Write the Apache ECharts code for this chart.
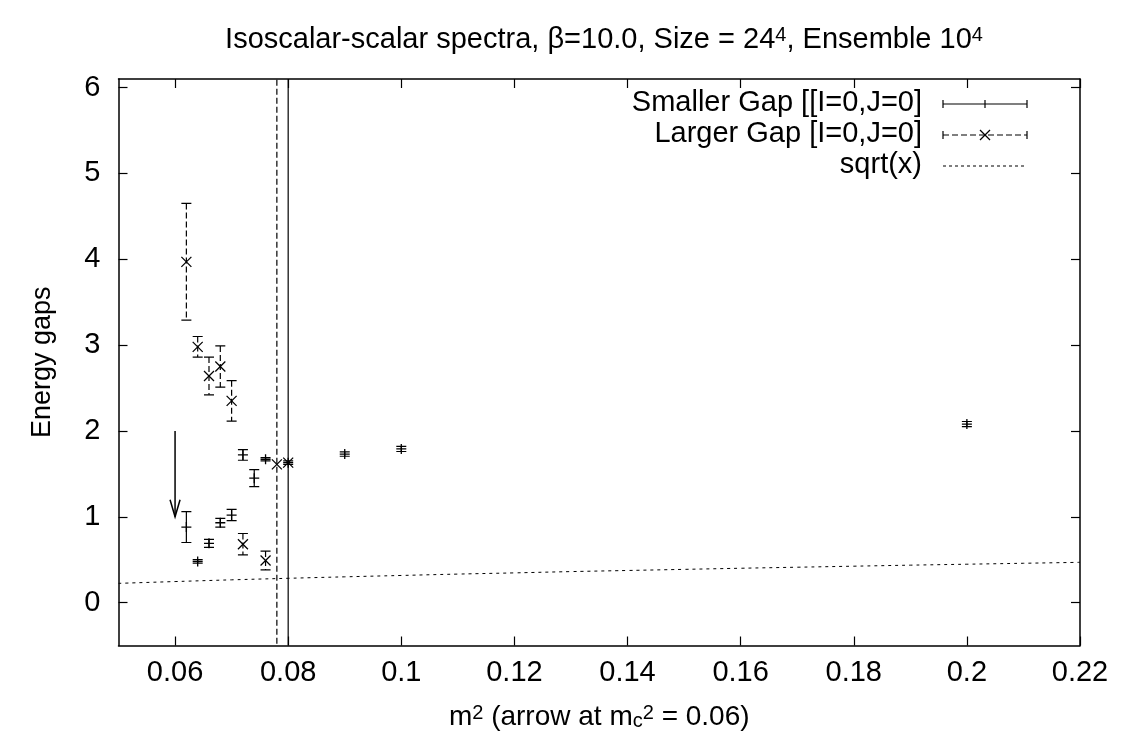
<!DOCTYPE html>
<html><head><meta charset="utf-8">
<script src="https://cdn.jsdelivr.net/npm/echarts@6/dist/echarts.min.js"></script>
<style>html,body{margin:0;padding:0;background:#fff}#c{width:1122px;height:747px}</style>
</head><body><div id="c"></div>
<script>
// ---- data ----
const smallX   = [0.062, 0.064, 0.066, 0.068, 0.070, 0.072, 0.074, 0.076, 0.080, 0.090, 0.100, 0.200];
const smallY   = [0.88,  0.48,  0.69,  0.93,  1.02,  1.72,  1.45,  1.67,  1.63,  1.73,  1.79,  2.08];
const smallErr = [0.18,  0.02,  0.046, 0.05,  0.066, 0.062, 0.10,  0.02,  20,    0.025, 0.03,  0.03];

const largeX   = [0.062, 0.064, 0.066, 0.068, 0.070, 0.072, 0.076, 0.078, 0.080];
const largeY   = [3.97,  2.98,  2.64,  2.75,  2.35,  0.68,  0.49,  1.61,  1.63];
const largeErr = [0.68,  0.12,  0.22,  0.24,  0.235, 0.125, 0.11,  20,    0.02];

const sqrtX = [0.05,0.06,0.07,0.08,0.09,0.10,0.11,0.12,0.13,0.14,0.15,0.16,0.17,0.18,0.19,0.20,0.21,0.22];
const sqrtY = [0.224,0.245,0.265,0.283,0.300,0.316,0.332,0.346,0.361,0.374,0.387,0.400,0.412,0.424,0.436,0.447,0.458,0.469];

const arrowX = [0.06], arrowFrom = [2.0], arrowTo = [1.0];

const xTicks = [0.06,0.08,0.10,0.12,0.14,0.16,0.18,0.20,0.22];
const yTicks = [0,1,2,3,4,5,6];

const legendNames = ['Smaller Gap [[I=0,J=0]', 'Larger Gap [I=0,J=0]', 'sqrt(x)'];
const titleText = 'Isoscalar-scalar spectra, \u03b2=10.0, Size = 24{sup|4}, Ensemble 10{sup|4}';

// ---- chart ----
const FONT = 'Liberation Sans';
const FS = 29;
const chart = echarts.init(document.getElementById('c'));

function errRender(marker, dashed) {
  return function (params, api) {
    const x = api.value(0), y = api.value(1), e = api.value(2);
    const p = api.coord([x, y]);
    const top = api.coord([x, y + e]);
    const bot = api.coord([x, y - e]);
    const cw = 5, ms = 5;
    const style = { stroke: '#000', lineWidth: 1.2, fill: null, lineDash: dashed ? [6, 3] : null };
    const children = [
      { type: 'line', shape: { x1: p[0], y1: top[1], x2: p[0], y2: bot[1] }, style },
      { type: 'line', shape: { x1: p[0] - cw, y1: top[1], x2: p[0] + cw, y2: top[1] }, style: { stroke: '#000', lineWidth: 1.2 } },
      { type: 'line', shape: { x1: p[0] - cw, y1: bot[1], x2: p[0] + cw, y2: bot[1] }, style: { stroke: '#000', lineWidth: 1.2 } }
    ];
    if (marker === 'plus') {
      children.push({ type: 'line', shape: { x1: p[0] - ms, y1: p[1], x2: p[0] + ms, y2: p[1] }, style: { stroke: '#000', lineWidth: 1.3 } });
      children.push({ type: 'line', shape: { x1: p[0], y1: p[1] - ms, x2: p[0], y2: p[1] + ms }, style: { stroke: '#000', lineWidth: 1.3 } });
    } else {
      children.push({ type: 'line', shape: { x1: p[0] - ms, y1: p[1] - ms, x2: p[0] + ms, y2: p[1] + ms }, style: { stroke: '#000', lineWidth: 1.2 } });
      children.push({ type: 'line', shape: { x1: p[0] - ms, y1: p[1] + ms, x2: p[0] + ms, y2: p[1] - ms }, style: { stroke: '#000', lineWidth: 1.2 } });
    }
    return { type: 'group', children };
  };
}

function arrowRender(params, api) {
  const a = api.coord([api.value(0), api.value(1)]);
  const b = api.coord([api.value(0), api.value(2)]);
  const hl = 17, hw = 5;
  const st = { stroke: '#000', lineWidth: 1.5, fill: null };
  return { type: 'group', children: [
    { type: 'line', shape: { x1: a[0], y1: a[1], x2: b[0], y2: b[1] }, style: st },
    { type: 'polyline', shape: { points: [[b[0] - hw, b[1] - hl], [b[0], b[1]], [b[0] + hw, b[1] - hl]] }, style: st }
  ]};
}

const axisLine = { show: true, onZero: false, lineStyle: { color: '#000', width: 1.5 } };
const tickStyle = { color: '#000', width: 1.2 };

// legend drawn as graphics (gnuplot style: text right-aligned, sample to the right)
const LX1 = 943, LX2 = 1027, LTX = 922, LY = [104, 135, 166];
const legendGraphics = [];
legendNames.forEach((n, i) => {
  legendGraphics.push({ type: 'text', right: 1122 - LTX, top: LY[i] - 16, style: { text: n, font: FS + 'px "' + FONT + '"', fill: '#000', textAlign: 'right' } });
});
const L = (x1, y1, x2, y2, extra) => ({ type: 'line', shape: { x1, y1, x2, y2 }, style: Object.assign({ stroke: '#000', lineWidth: 1.2 }, extra || {}) });
const MX = (LX1 + LX2) / 2;
legendGraphics.push(L(LX1, LY[0], LX2, LY[0]), L(LX1, LY[0] - 4, LX1, LY[0] + 4), L(LX2, LY[0] - 4, LX2, LY[0] + 4), L(MX, LY[0] - 4, MX, LY[0] + 4));
legendGraphics.push(L(LX1, LY[1], LX2, LY[1], { lineDash: [6, 3] }), L(LX1, LY[1] - 4, LX1, LY[1] + 4), L(LX2, LY[1] - 4, LX2, LY[1] + 4),
  L(MX - 5, LY[1] - 5, MX + 5, LY[1] + 5), L(MX - 5, LY[1] + 5, MX + 5, LY[1] - 5));
legendGraphics.push(L(LX1, LY[2], LX2, LY[2], { lineWidth: 1, lineDash: [3, 3] }));

chart.setOption({
  animation: false,
  backgroundColor: '#fff',
  title: {
    text: titleText, left: 599, top: 20, textAlign: 'center',
    textStyle: { fontFamily: FONT, fontSize: 29, fontWeight: 'normal', color: '#000',
      rich: { sup: { fontFamily: FONT, fontSize: 20, verticalAlign: 'top', lineHeight: 14, padding: [0, 0, 15, 0] } } }
  },
  grid: { left: 118.5, right: 42, top: 79, bottom: 101.5, show: false },
  xAxis: [{
    type: 'value', min: 0.05, max: 0.22, position: 'bottom',
    axisLine, splitLine: { show: false },
    axisTick: { show: true, inside: true, length: 9, lineStyle: tickStyle, customValues: xTicks },
    axisLabel: { customValues: xTicks, fontFamily: FONT, fontSize: FS, color: '#000', margin: 13,
      formatter: v => String(parseFloat(v.toFixed(4))) },
    name: 'm{sup|2} (arrow at m{sub|c}{sup|2} = 0.06)', nameLocation: 'middle', nameGap: 58,
    nameTextStyle: { fontFamily: FONT, fontSize: 28, color: '#000',
      rich: { sup: { fontFamily: FONT, fontSize: 20, verticalAlign: 'top', lineHeight: 14, padding: [0, 0, 13, 0] },
              sub: { fontFamily: FONT, fontSize: 20, verticalAlign: 'bottom', lineHeight: 14, padding: [10, 0, 0, 0] } } }
  }, {
    type: 'value', min: 0.05, max: 0.22, position: 'top',
    axisLine, splitLine: { show: false },
    axisTick: { show: true, inside: true, length: 9, lineStyle: tickStyle, customValues: xTicks },
    axisLabel: { show: false }
  }],
  yAxis: [{
    type: 'value', min: -0.5, max: 6.1, position: 'left',
    axisLine, splitLine: { show: false },
    axisTick: { show: true, inside: true, length: 9, lineStyle: tickStyle, customValues: yTicks },
    axisLabel: { customValues: yTicks, fontFamily: FONT, fontSize: FS, color: '#000', margin: 18 },
    name: 'Energy gaps', nameLocation: 'middle', nameGap: 62, nameRotate: 90,
    nameTextStyle: { fontFamily: FONT, fontSize: 27, color: '#000' }
  }, {
    type: 'value', min: -0.5, max: 6.1, position: 'right',
    axisLine, splitLine: { show: false },
    axisTick: { show: true, inside: true, length: 9, lineStyle: tickStyle, customValues: yTicks },
    axisLabel: { show: false }
  }],
  graphic: legendGraphics,
  series: [
    { type: 'line', name: legendNames[2], data: sqrtX.map((x, i) => [x, sqrtY[i]]), symbol: 'none', smooth: true,
      lineStyle: { color: '#000', width: 1, type: [3, 4] }, z: 1 },
    { type: 'custom', name: legendNames[0], data: smallX.map((x, i) => [x, smallY[i], smallErr[i]]),
      renderItem: errRender('plus', false), clip: true, z: 3 },
    { type: 'custom', name: legendNames[1], data: largeX.map((x, i) => [x, largeY[i], largeErr[i]]),
      renderItem: errRender('x', true), clip: true, z: 3 },
    { type: 'custom', name: 'arrow', data: arrowX.map((x, i) => [x, arrowFrom[i], arrowTo[i]]),
      renderItem: arrowRender, z: 4 }
  ]
});
</script></body></html>
